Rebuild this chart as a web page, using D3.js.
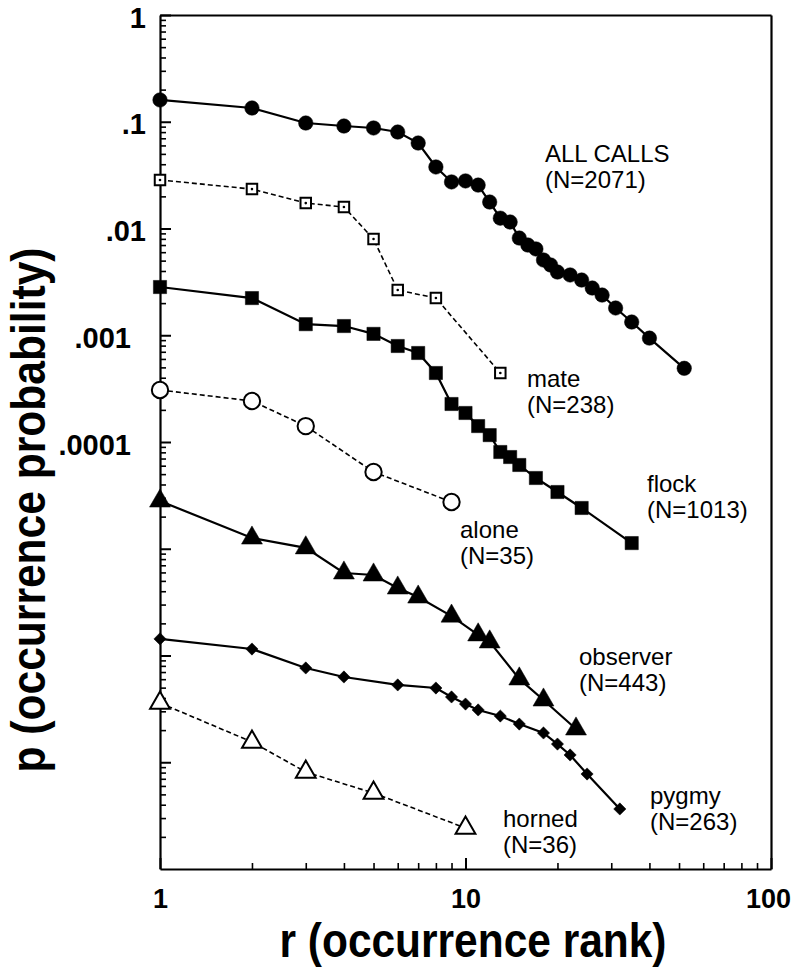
<!DOCTYPE html>
<html>
<head>
<meta charset="utf-8">
<script src="https://d3js.org/d3.v7.min.js"></script>
<style>
  body { margin: 0; background: #fff; }
  svg { display: block; }
  text { font-family: "Liberation Sans", Arial, Helvetica, sans-serif; fill: #000; }
</style>
</head>
<body>
<script>
// ---- data (rank r, probability p) ----
var allRank = [1,2,3,4,5,6,7,8,9,10,11,12,13,14,15,16,17,18,19,20,22,24,26,28,31,35,40,52];
var allP = [0.160,0.1345,0.0973,0.0912,0.0874,0.0801,0.0632,0.0377,0.0273,0.0279,0.0255,0.0177,
            0.0125,0.0115,0.00814,0.0070,0.00643,0.00507,0.00455,0.00391,0.00367,0.00329,
            0.00277,0.00238,0.0018,0.00133,0.00094,0.00049];

var mateRank = [1,2,3,4,5,6,8,13];
var mateP = [0.0285,0.0234,0.0173,0.0159,0.00797,0.00265,0.00223,0.000443];

var flockRank = [1,2,3,4,5,6,7,8,9,10,11,12,13,14,15,17,20,24,35];
var flockP = [0.00283,0.00223,0.00127,0.00122,0.00103,0.000793,0.000682,0.000443,0.000227,
              0.000187,0.000141,0.000116,8.06e-5,7.23e-5,6.09e-5,4.6e-5,3.4e-5,2.41e-5,1.13e-5];

var aloneRank = [1,2,3,5,9];
var aloneP = [3.07e-4,2.42e-4,1.41e-4,5.24e-5,2.74e-5];

var observerRank = [1,2,3,4,5,6,7,9,11,12,15,18,23];
var observerP = [2.8e-5,1.26e-5,1.02e-5,5.93e-6,5.68e-6,4.29e-6,3.53e-6,2.34e-6,1.56e-6,
                 1.34e-6,6.03e-7,3.83e-7,2.05e-7];

var pygmyRank = [1,2,3,4,6,8,9,10,11,13,15,18,20,22,25,32];
var pygmyP = [1.43e-6,1.15e-6,7.64e-7,6.29e-7,5.3e-7,4.96e-7,4.09e-7,3.51e-7,3.09e-7,2.71e-7,
              2.28e-7,1.88e-7,1.48e-7,1.17e-7,7.76e-8,3.65e-8];

var hornedRank = [1,2,3,5,10];
var hornedP = [3.59e-7,1.55e-7,8.1e-8,5.15e-8,2.42e-8];

var seriesNames = ["ALL CALLS","mate","flock","alone","observer","pygmy","horned"];
var seriesN = ["(N=2071)","(N=238)","(N=1013)","(N=35)","(N=443)","(N=263)","(N=36)"];

var xTicks = [1, 10, 100];
var xTickLabels = ["1", "10", "100"];
var yTicks = [1, 0.1, 0.01, 0.001, 0.0001, 1e-5, 1e-6, 1e-7];
var yTickLabels = ["1", ".1", ".01", ".001", ".0001", "", "", ""];

// ---- layout ----
var width = 792, height = 968;
var pLeft = 160, pRight = 771, pTop = 15, pBottom = 869;

var svg = d3.select("body").append("svg")
    .attr("width", width)
    .attr("height", height);

var x = d3.scaleLog().domain([1, 100]).range([pLeft, pRight]);
var y = d3.scaleLog().domain([1e-8, 1]).range([pBottom, pTop]);

// minor tick positions
var xMinor = [], yMinor = [];
[1, 10].forEach(function(d){ for (var k = 2; k <= 9; k++) xMinor.push(k*d); });
for (var e = -8; e < 0; e++) for (var k = 2; k <= 9; k++) yMinor.push(k*Math.pow(10, e));

// y axis: minor then major
svg.append("g")
   .attr("transform", "translate(" + pLeft + ",0)")
   .call(d3.axisLeft(y).tickValues(yMinor).tickSize(-6).tickFormat(""))
   .call(function(g){ g.select(".domain").remove(); })
   .selectAll("line").attr("stroke-width", 1.6);

var yAx = svg.append("g")
   .attr("transform", "translate(" + pLeft + ",0)")
   .call(d3.axisLeft(y).tickValues(yTicks).tickSizeInner(-11).tickSizeOuter(0).tickPadding(14)
        .tickFormat(function(d, i){ return yTickLabels[i]; }));
yAx.select(".domain").attr("stroke-width", 2.2);
yAx.selectAll("line").attr("stroke-width", 2);
yAx.selectAll("text")
   .attr("font-size", 29).attr("font-weight", "bold")
   .attr("font-family", "Liberation Sans, Arial, sans-serif")
   .attr("dy", "0.42em")
   .attr("dx", function(d){ return d < 0.005 ? -15 : 0; });

// x axis: minor then major
svg.append("g")
   .attr("transform", "translate(0," + pBottom + ")")
   .call(d3.axisBottom(x).tickValues(xMinor).tickSize(-6).tickFormat(""))
   .call(function(g){ g.select(".domain").remove(); })
   .selectAll("line").attr("stroke-width", 1.6);

var xAx = svg.append("g")
   .attr("transform", "translate(0," + pBottom + ")")
   .call(d3.axisBottom(x).tickValues(xTicks).tickSizeInner(-11).tickSizeOuter(0).tickPadding(20)
        .tickFormat(function(d, i){ return xTickLabels[i]; }));
xAx.select(".domain").attr("stroke-width", 2.2);
xAx.selectAll("line").attr("stroke-width", 2);
xAx.selectAll("text")
   .attr("font-size", 27).attr("font-weight", "bold")
   .attr("font-family", "Liberation Sans, Arial, sans-serif")
   .attr("dx", function(d){ return d === 100 ? -3 : 0; });

// top and right sides of the box: axes without ticks
svg.append("g")
   .attr("transform", "translate(0," + pTop + ")")
   .call(d3.axisTop(x).tickValues([]).tickSizeOuter(0))
   .select(".domain").attr("stroke-width", 2.2);
svg.append("g")
   .attr("transform", "translate(" + pRight + ",0)")
   .call(d3.axisRight(y).tickValues([]).tickSizeOuter(0))
   .select(".domain").attr("stroke-width", 2.2);

// ---- series ----
var series = [
  {rank: allRank, p: allP, sym: d3.symbolCircle, size: 165, fill: "#000", dash: null},
  {rank: mateRank, p: mateP, sym: d3.symbolSquare, size: 110, fill: "#fff", dash: "5,3", dot: true},
  {rank: flockRank, p: flockP, sym: d3.symbolSquare, size: 175, fill: "#000", dash: null},
  {rank: aloneRank, p: aloneP, sym: d3.symbolCircle, size: 210, fill: "#fff", dash: "5,3"},
  {rank: observerRank, p: observerP, sym: d3.symbolTriangle, size: 190, fill: "#000", dash: null},
  {rank: pygmyRank, p: pygmyP, sym: d3.symbolSquare, size: 75, fill: "#000", dash: null, rot: 45},
  {rank: hornedRank, p: hornedP, sym: d3.symbolTriangle, size: 170, fill: "#fff", dash: "5,3"}
];

var line = d3.line()
    .x(function(d){ return x(d[0]); })
    .y(function(d){ return y(d[1]); });

series.forEach(function(s){
  var pts = s.rank.map(function(r, i){ return [r, s.p[i]]; });
  svg.append("path")
     .attr("d", line(pts))
     .attr("fill", "none")
     .attr("stroke", "#000")
     .attr("stroke-width", s.dash ? 1.6 : 2.2)
     .attr("stroke-dasharray", s.dash);
  var g = svg.append("g");
  g.selectAll("path")
   .data(pts)
   .enter()
   .append("path")
   .attr("d", d3.symbol().type(s.sym).size(s.size))
   .attr("transform", function(d){
     return "translate(" + x(d[0]) + "," + y(d[1]) + ")" + (s.rot ? " rotate(" + s.rot + ")" : "");
   })
   .attr("fill", s.fill)
   .attr("stroke", "#000")
   .attr("stroke-width", s.fill === "#fff" ? 2 : 0.5);
  if (s.dot) {
    g.selectAll("circle")
     .data(pts)
     .enter()
     .append("circle")
     .attr("cx", function(d){ return x(d[0]); })
     .attr("cy", function(d){ return y(d[1]); })
     .attr("r", 1.3)
     .attr("fill", "#000");
  }
});

// ---- series labels ----
var labelPos = [[545,162],[527,387],[647,492],[460,538],[579,665],[650,804],[503,827]];
seriesNames.forEach(function(name, i){
  var t = svg.append("text")
     .attr("x", labelPos[i][0]).attr("y", labelPos[i][1])
     .attr("font-size", 24);
  t.append("tspan").attr("x", labelPos[i][0]).text(name);
  t.append("tspan").attr("x", labelPos[i][0]).attr("dy", 26).text(seriesN[i]);
});

// ---- axis titles ----
svg.append("text")
   .attr("x", 473).attr("y", 957)
   .attr("text-anchor", "middle")
   .attr("font-size", 48).attr("font-weight", "bold")
   .attr("textLength", 387).attr("lengthAdjust", "spacingAndGlyphs")
   .text("r (occurrence rank)");

svg.append("text")
   .attr("transform", "translate(45,510) rotate(-90)")
   .attr("text-anchor", "middle")
   .attr("font-size", 48).attr("font-weight", "bold")
   .attr("textLength", 525).attr("lengthAdjust", "spacingAndGlyphs")
   .text("p (occurrence probability)");
</script>
</body>
</html>
